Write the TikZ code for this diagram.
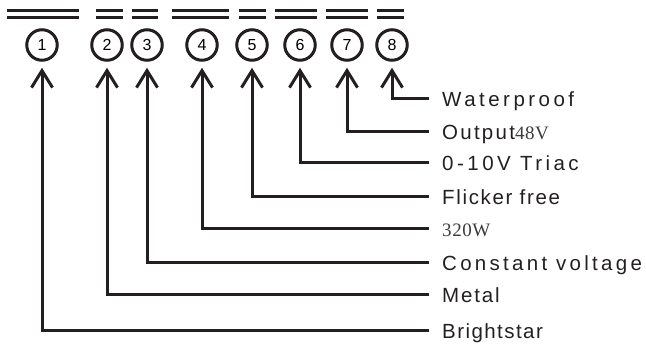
\documentclass[tikz,border=0pt]{standalone}
\usepackage{fontspec}
\setmainfont{Liberation Sans}
\newfontfamily\valfont{Liberation Serif}[LetterSpace=3]
\usetikzlibrary{arrows.meta}
\definecolor{ink}{HTML}{231F20}
\definecolor{valgray}{HTML}{3C3C3C}
\tikzset{
  num/.style={circle,draw=ink,line width=3pt,minimum size=30.5pt,inner sep=0pt,
    font=\fontsize{16}{18}\selectfont},
  lab/.style={anchor=west,inner sep=0pt,text height=14.5pt,text depth=0pt,
    text=ink,font=\fontsize{20.5}{24}\selectfont},
  lead/.style={ink,line width=3pt,-{Straight Barb[length=17pt,width=21pt]},
    shorten >=6pt},
  bar/.style={ink,line width=3.4pt}
}
\newcommand{\val}[1]{{\valfont\fontsize{19}{22}\selectfont\color{valgray}#1}}
\begin{document}
\begin{tikzpicture}[x=1pt,y=-1pt]
  \useasboundingbox (0,0) rectangle (646,344);
  % double bars over the numbers
  \foreach \a/\b in {7/79,96/123,132/158,172/229,239/266,275/317,326/368,377/404}{
    \draw[bar] (\a,10.5) -- (\b,10.5);
    \draw[bar] (\a,17.5) -- (\b,17.5);
  }
  \foreach \n/\x in {1/42,2/107,3/147,4/202,5/252,6/300,7/347,8/392}
    \node[num] (c\n) at (\x,45) {\n};
  % labels
  \node[lab] (l8) at (442,99) {\addfontfeature{LetterSpace=17}Waterproof};
  \node[lab] (l7) at (442,132) {\addfontfeature{LetterSpace=11}Output\val{48V}};
  \node[lab] (l6) at (442,163) {\addfontfeature{LetterSpace=17}0-10V Triac};
  \node[lab] (l5) at (442,197) {\addfontfeature{LetterSpace=8}Flicker free};
  \node[lab] (l4) at (442,229) {\val{320W}};
  \node[lab] (l3) at (442,263) {\addfontfeature{LetterSpace=16}Constant voltage};
  \node[lab] (l2) at (442,295) {\addfontfeature{LetterSpace=9}Metal};
  \node[lab] (l1) at (442,331) {\addfontfeature{LetterSpace=7}Brightstar};
  \foreach \n in {1,...,8}
    \draw[lead] ([xshift=-13pt]l\n.west) -| (c\n.south);
\end{tikzpicture}
\end{document}
